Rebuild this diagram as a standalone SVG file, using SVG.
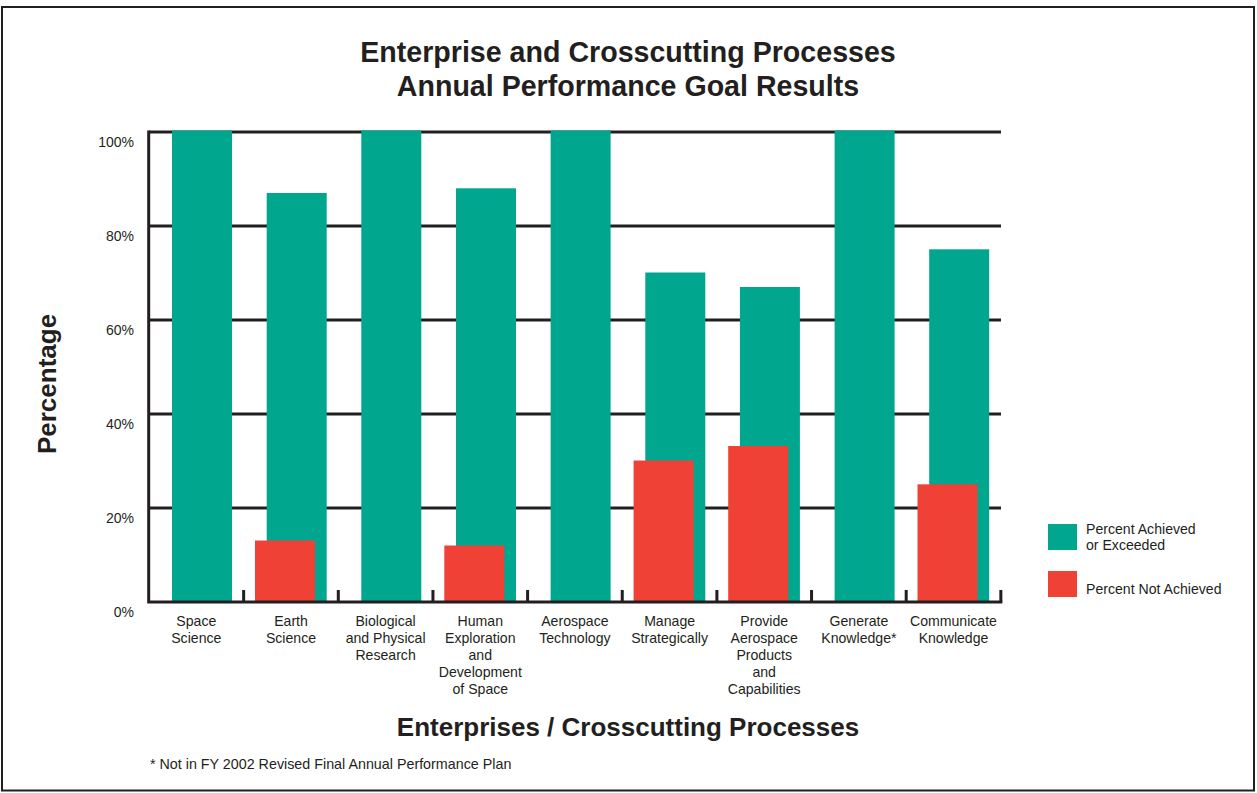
<svg xmlns="http://www.w3.org/2000/svg" width="1257" height="793" viewBox="0 0 1257 793">
<style>
text{font-family:"Liberation Sans",Arial,Helvetica,sans-serif;fill:#231f20}
.t{font-size:28.6px;font-weight:bold;text-anchor:middle}
.ax{font-size:26px;font-weight:bold;text-anchor:middle}
.yl{font-size:14px;text-anchor:end}
.cl{font-size:14.1px;text-anchor:middle}
.lg{font-size:14.1px}
.fn{font-size:14.3px}
.g{fill:#00a78e}
.r{fill:#ef4136}
.grid{stroke:#231f20;stroke-width:3;fill:none}
</style>
<rect x="2" y="7" width="1252" height="783.5" fill="#fff" stroke="#231f20" stroke-width="2"/>
<g id="title">
<text class="t" x="628" y="61.5">Enterprise and Crosscutting Processes</text>
<text class="t" x="628" y="95.5">Annual Performance Goal Results</text>
</g>
<g id="gridlines">
<path class="grid" d="M149 132H1001M149 226H1001M149 320H1001M149 414H1001M149 508H1001"/>
</g>
<g id="y-labels">
<text class="yl" x="134" y="146.5">100%</text>
<text class="yl" x="134" y="240.5">80%</text>
<text class="yl" x="134" y="334.5">60%</text>
<text class="yl" x="134" y="428.5">40%</text>
<text class="yl" x="134" y="522.5">20%</text>
<text class="yl" x="134" y="616.5">0%</text>
</g>
<text id="y-title" class="ax" transform="translate(56 384) rotate(-90)">Percentage</text>
<g id="space-science">
<rect class="g" x="172" y="130.5" width="60" height="471.5"/>
<text class="cl" x="196.3" y="625.5">Space</text>
<text class="cl" x="196.3" y="642.5">Science</text>
</g>
<g id="earth-science">
<rect class="g" x="266.7" y="193" width="60" height="409"/>
<rect class="r" x="255" y="540.5" width="60" height="61.5"/>
<text class="cl" x="291" y="625.5">Earth</text>
<text class="cl" x="291" y="642.5">Science</text>
</g>
<g id="biological-physical-research">
<rect class="g" x="361.3" y="130.5" width="60" height="471.5"/>
<text class="cl" x="385.6" y="625.5">Biological</text>
<text class="cl" x="385.6" y="642.5">and Physical</text>
<text class="cl" x="385.6" y="659.5">Research</text>
</g>
<g id="human-exploration">
<rect class="g" x="456" y="188.3" width="60" height="413.7"/>
<rect class="r" x="444.3" y="545.5" width="60" height="56.5"/>
<text class="cl" x="480.3" y="625.5">Human</text>
<text class="cl" x="480.3" y="642.5">Exploration</text>
<text class="cl" x="480.3" y="659.5">and</text>
<text class="cl" x="480.3" y="676.5">Development</text>
<text class="cl" x="480.3" y="693.5">of Space</text>
</g>
<g id="aerospace-technology">
<rect class="g" x="550.6" y="130.5" width="60" height="471.5"/>
<text class="cl" x="574.9" y="625.5">Aerospace</text>
<text class="cl" x="574.9" y="642.5">Technology</text>
</g>
<g id="manage-strategically">
<rect class="g" x="645.3" y="272.5" width="60" height="329.5"/>
<rect class="r" x="633.6" y="460.5" width="60" height="141.5"/>
<text class="cl" x="669.6" y="625.5">Manage</text>
<text class="cl" x="669.6" y="642.5">Strategically</text>
</g>
<g id="provide-aerospace-products">
<rect class="g" x="739.9" y="287" width="60" height="315"/>
<rect class="r" x="728.2" y="446" width="60" height="156"/>
<text class="cl" x="764.2" y="625.5">Provide</text>
<text class="cl" x="764.2" y="642.5">Aerospace</text>
<text class="cl" x="764.2" y="659.5">Products</text>
<text class="cl" x="764.2" y="676.5">and</text>
<text class="cl" x="764.2" y="693.5">Capabilities</text>
</g>
<g id="generate-knowledge">
<rect class="g" x="834.6" y="130.5" width="60" height="471.5"/>
<text class="cl" x="858.9" y="625.5">Generate</text>
<text class="cl" x="858.9" y="642.5">Knowledge*</text>
</g>
<g id="communicate-knowledge">
<rect class="g" x="929.2" y="249.3" width="60" height="352.7"/>
<rect class="r" x="917.5" y="484.3" width="60" height="117.7"/>
<text class="cl" x="953.5" y="625.5">Communicate</text>
<text class="cl" x="953.5" y="642.5">Knowledge</text>
</g>
<g id="axes">
<path class="grid" d="M148.7 130.5V603.5M147.2 602H1002.3"/>
<path class="grid" d="M243.65 590V602M338.3 590V602M432.95 590V602M527.6 590V602M622.25 590V602M716.9 590V602M811.55 590V602M906.2 590V602M1000.85 590V602"/>
</g>
<text id="x-title" class="ax" x="628" y="736">Enterprises / Crosscutting Processes</text>
<g id="legend">
<rect class="g" x="1048" y="524" width="29" height="26"/>
<text class="lg" x="1086" y="533.5">Percent Achieved</text>
<text class="lg" x="1086" y="549.5">or Exceeded</text>
<rect class="r" x="1048" y="571" width="29" height="26"/>
<text class="lg" x="1086" y="594">Percent Not Achieved</text>
</g>
<text id="footnote" class="fn" x="150" y="769">* Not in FY 2002 Revised Final Annual Performance Plan</text>
<g id="connectors"/>
</svg>
